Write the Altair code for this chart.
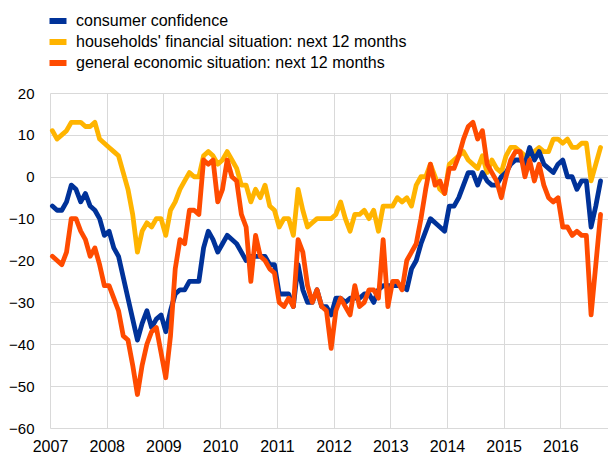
import altair as alt
import pandas as pd

# Monthly data, Jan 2007 - Sep 2016 (plotted mid-month)
start_year = 2007
consumer_confidence = [
    -7, -8, -8, -6, -2, -3, -6, -4, -7, -8, -10, -14,
    -13, -17, -19, -24, -29, -34, -39, -35, -32, -36, -34, -33,
    -37, -32, -28, -27, -27, -25, -25, -25, -17, -13, -15, -18,
    -16, -14, -15, -16, -18, -20, -19, -19, -19, -19, -21, -21,
    -28, -28, -28, -31, -21, -27, -30, -30, -27, -31, -31, -33,
    -29, -29, -30, -29, -29, -29, -28, -28, -30, -27, -26, -26,
    -26, -26, -26, -27, -22, -20, -16, -13, -10, -11, -12, -13,
    -7, -7, -5, -2, 1, 1, -2, 1, -1, -2, -2, 0,
    1, 3, 4, 4, 3, 7, 4, 6, 3, 2, 1, 3,
    4, 0, 0, -3, -1, -1, -12, -7, -1,
]
households_financial = [
    11, 9, 10, 11, 13, 13, 13, 12, 12, 13, 9, 8,
    7, 6, 5, 1, -3, -9, -18, -13, -11, -12, -10, -10,
    -14, -8, -6, -3, -1, 1, 0, 0, 5, 6, 5, 3,
    4, 6, 4, 2, -2, -2, -6, -3, -5, -2, -7, -8,
    -12, -10, -10, -14, -3, -8, -12, -11, -10, -10, -10, -10,
    -9, -6, -10, -13, -9, -9, -8, -10, -8, -13, -7, -7,
    -7, -5, -6, -5, -7, -2, 0, 0, 3, 0, -3, -4,
    3, 4, 5, 6, 4, 3, 2, 5, 1, 4, 2, 1,
    5, 7, 7, 6, 5, 5, 6, 7, 6, 6, 9, 9,
    8, 9, 7, 7, 8, 8, -1, 3, 7,
]
general_economic = [
    -19, -20, -21, -18, -10, -10, -13, -15, -19, -17, -21, -26,
    -26, -29, -32, -38, -39, -45, -52, -45, -40, -37, -36, -42,
    -48, -38, -22, -15, -16, -8, -8, -9, 4, 3, 4, -6,
    -3, 4, 0, -1, -9, -12, -25, -14, -19, -20, -22, -23,
    -30, -31, -29, -31, -15, -18, -26, -30, -27, -31, -32, -41,
    -32, -29, -31, -33, -26, -31, -30, -27, -27, -29, -15, -31,
    -25, -25, -27, -20, -18, -16, -10, -3, 3, -2, -1, -4,
    2, 2, 5, 9, 12, 13, 9, 11, 3, 1, -1, -5,
    0, 4, 6, 6, 0, 4, -1, 3, -2, -5, -6, -5,
    -12, -12, -14, -13, -14, -14, -33, -21, -9,
]
series_names = [
    "consumer confidence",
    "households' financial situation: next 12 months",
    "general economic situation: next 12 months",
]
series_colors = ["#003299", "#FFB400", "#FF4B00"]
year_ticks = list(range(2007, 2017))
y_ticks = list(range(-60, 30, 10))

rows = []
for name, vals in zip(series_names, [consumer_confidence, households_financial, general_economic]):
    for i, v in enumerate(vals):
        rows.append({"t": start_year + (i + 0.5) / 12.0, "value": v, "series": name})
df = pd.DataFrame(rows)

font = "Liberation Sans"

color = alt.Color(
    "series:N",
    scale=alt.Scale(domain=series_names, range=series_colors),
    legend=alt.Legend(
        title=None,
        orient="none",
        legendX=0,
        legendY=-80,
        symbolType="M-2.125,0H2.125",
        symbolSize=64,
        symbolStrokeWidth=6,
        labelFont=font,
        labelFontSize=16,
        labelColor="#000000",
        labelOffset=10,
        rowPadding=-3,
        labelLimit=600,
    ),
)

base = alt.Chart(df).encode(
    x=alt.X(
        "t:Q",
        scale=alt.Scale(domain=[2007, 2016.84], nice=False, zero=False),
        axis=alt.Axis(
            values=year_ticks, format="d", title=None, labelPadding=10,
            labelFlush=False, labelFontSize=16,
        ),
    ),
    y=alt.Y(
        "value:Q",
        scale=alt.Scale(domain=[-60, 20], nice=False),
        axis=alt.Axis(values=y_ticks, title=None, labelPadding=16, labelFontSize=15),
    ),
    color=color,
)

draw_order = [series_names[1], series_names[0], series_names[2]]
layers = [
    base.transform_filter(alt.datum.series == name).mark_line(
        strokeWidth=4.8, strokeJoin="round", strokeCap="round"
    )
    for name in draw_order
]

chart = (
    alt.layer(*layers)
    .properties(
        width=558,
        height=335,
        padding={"left": 42, "top": 85, "right": 0, "bottom": 25},
        autosize=alt.AutoSizeParams(type="none"),
    )
    .configure_view(stroke=None)
    .configure_axis(
        grid=True,
        gridColor="#d9d9d9",
        gridWidth=1,
        domain=False,
        ticks=False,
        labelFont=font,
        labelColor="#000000",
    )
)

chart.save("out.html", embed_options={"renderer": "svg", "actions": False})
